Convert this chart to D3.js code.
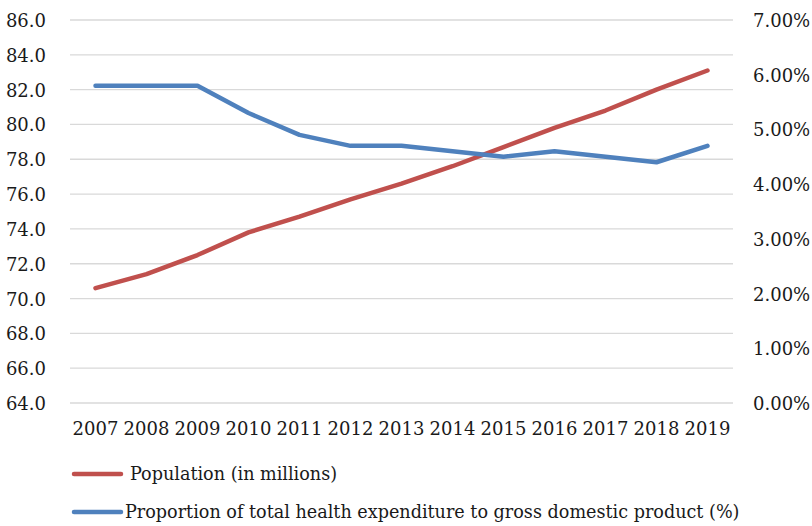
<!DOCTYPE html>
<html>
<head>
<meta charset="utf-8">
<script src="https://cdn.jsdelivr.net/npm/d3@7"></script>
<style>
  html, body { margin: 0; padding: 0; background: #fff; }
</style>
</head>
<body>
<svg id="chart" width="812" height="526"></svg>
<script>
// Data.
const years = ["2007", "2008", "2009", "2010", "2011", "2012", "2013", "2014", "2015", "2016", "2017", "2018", "2019"];
const population = [70.6, 71.4, 72.5, 73.8, 74.7, 75.7, 76.6, 77.6, 78.7, 79.8, 80.8, 82.0, 83.1];
const healthShare = [5.8, 5.8, 5.8, 5.3, 4.9, 4.7, 4.7, 4.6, 4.5, 4.6, 4.5, 4.4, 4.7];
const leftTicks = [64, 66, 68, 70, 72, 74, 76, 78, 80, 82, 84, 86];
const rightTicks = [0, 1, 2, 3, 4, 5, 6, 7];
const legendLabels = ["Population (in millions)", "Proportion of total health expenditure to gross domestic product (%)"];

const colors = { population: "#c0504d", health: "#4f81bd", grid: "#d9d9d9", text: "#1a1a1a" };
const plot = { left: 70, right: 733, top: 20, bottom: 403 };
const font = "'DejaVu Serif', 'Liberation Serif', serif";
const fontSize = "18px";

const svg = d3.select("#chart");

const x = d3.scaleBand().domain(years).range([plot.left, plot.right]);
const yLeft = d3.scaleLinear().domain([64, 86]).range([plot.bottom, plot.top]);
const yRight = d3.scaleLinear().domain([0, 7]).range([plot.bottom, plot.top]);

// Style helper for all chart text.
const styleText = (sel, size = fontSize) =>
  sel.style("font-family", font).style("font-size", size).style("fill", colors.text);

// Gridlines.
svg.append("g")
  .selectAll("line")
  .data(leftTicks)
  .join("line")
  .attr("x1", plot.left)
  .attr("x2", plot.right)
  .attr("y1", (d) => yLeft(d))
  .attr("y2", (d) => yLeft(d))
  .attr("stroke", colors.grid)
  .attr("stroke-width", 1.3);

// Left axis.
const gLeft = svg.append("g")
  .attr("transform", `translate(${plot.left},0)`)
  .call(d3.axisLeft(yLeft).tickValues(leftTicks).tickFormat(d3.format(".1f")).tickSize(0).tickPadding(24));
gLeft.select(".domain").remove();
gLeft.selectAll("text").call(styleText).attr("dy", "0.36em");

// Right axis.
const gRight = svg.append("g")
  .attr("transform", `translate(${plot.right},0)`)
  .call(d3.axisRight(yRight).tickValues(rightTicks).tickFormat((d) => d.toFixed(2) + "%").tickSize(0).tickPadding(20));
gRight.select(".domain").remove();
gRight.selectAll("text").call(styleText).attr("dy", "0.36em");

// Bottom axis.
const gBottom = svg.append("g")
  .attr("transform", `translate(0,${plot.bottom})`)
  .call(d3.axisBottom(x).tickSize(0).tickPadding(19));
gBottom.select(".domain").remove();
gBottom.selectAll("text").call(styleText);

// Lines.
const cx = (d, i) => x(years[i]) + x.bandwidth() / 2;

svg.append("path")
  .datum(population)
  .attr("fill", "none")
  .attr("stroke", colors.population)
  .attr("stroke-width", 4.5)
  .attr("stroke-linecap", "round")
  .attr("stroke-linejoin", "round")
  .attr("d", d3.line().x(cx).y((d) => yLeft(d)));

svg.append("path")
  .datum(healthShare)
  .attr("fill", "none")
  .attr("stroke", colors.health)
  .attr("stroke-width", 4.5)
  .attr("stroke-linecap", "round")
  .attr("stroke-linejoin", "round")
  .attr("d", d3.line().x(cx).y((d) => yRight(d)));

// Legend.
const legend = svg.append("g");
const legendRows = [
  { label: legendLabels[0], color: colors.population, y: 474, tx: 130 },
  { label: legendLabels[1], color: colors.health, y: 512, tx: 125 },
];
legendRows.forEach((r) => {
  legend.append("line")
    .attr("x1", 74).attr("x2", 121)
    .attr("y1", r.y).attr("y2", r.y)
    .attr("stroke", r.color)
    .attr("stroke-width", 4.5)
    .attr("stroke-linecap", "round");
  legend.append("text")
    .attr("x", r.tx)
    .attr("y", r.y)
    .attr("dy", "0.35em")
    .call(styleText, "17.6px")
    .text(r.label);
});
</script>
</body>
</html>
